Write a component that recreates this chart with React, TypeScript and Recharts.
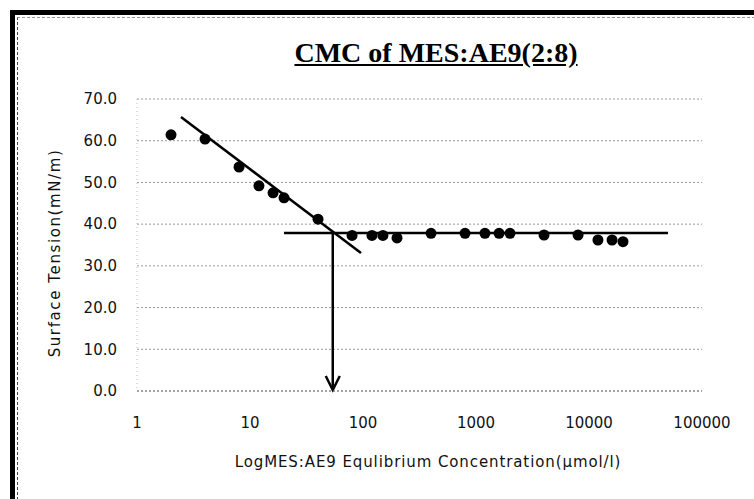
import {
  ScatterChart, Scatter, XAxis, YAxis, CartesianGrid, ReferenceLine,
} from 'recharts';

// concentration (µmol/l) vs surface tension (mN/m)
const concentration = [2, 4, 8, 12, 16, 20, 40, 80, 120, 150, 200, 400, 800, 1200, 1600, 2000, 4000, 8000, 12000, 16000, 20000];
const tension = [61.4, 60.4, 53.7, 49.2, 47.5, 46.3, 41.2, 37.3, 37.3, 37.3, 36.7, 37.8, 37.8, 37.8, 37.8, 37.8, 37.4, 37.4, 36.2, 36.2, 35.8];

const xTicks = [1, 10, 100, 1000, 10000, 100000];
const yTicks = [0, 10, 20, 30, 40, 50, 60, 70];

// hand-drawn fit lines and CMC arrow
const slopeLine = [{ x: 2.45, y: 65.7 }, { x: 96, y: 33.1 }];
const plateauLine = [{ x: 20, y: 37.9 }, { x: 50000, y: 37.9 }];
const cmcArrow = [{ x: 54, y: 37.9 }, { x: 54, y: 0 }];

const points = concentration.map((c, i) => ({ x: c, y: tension[i] }));

const tickFont = { fontFamily: 'DejaVu Sans', fontSize: 15, fill: '#111' };

const Dot = (props: any) => <circle cx={props.cx} cy={props.cy} r={5.5} fill="#000" />;

const Arrow = (props: any) => {
  const { x1, y1, x2, y2 } = props;
  return (
    <g>
      <line x1={x1} y1={y1} x2={x2} y2={y2 - 4} stroke="#000" strokeWidth={2.5} />
      <polyline
        points={`${x2 - 7},${y2 - 15} ${x2},${y2 - 1} ${x2 + 7},${y2 - 15}`}
        fill="none"
        stroke="#000"
        strokeWidth={2.5}
      />
    </g>
  );
};

export default function App() {
  return (
    <div style={{ position: 'absolute', left: 0, top: 0, width: 754, height: 499, background: '#fff', overflow: 'hidden' }}>
      <div style={{ position: 'absolute', left: 10, top: 10, width: 744, height: 489, borderLeft: '5px solid #000', borderTop: '5px solid #000' }} />
      <div style={{ position: 'absolute', left: 17, top: 17, width: 737, height: 482, borderLeft: '1px dashed #444', borderTop: '1px dashed #999' }} />
      <div
        style={{
          position: 'absolute', left: 436, top: 39, transform: 'translateX(-50%)', whiteSpace: 'nowrap',
          fontFamily: '"Liberation Serif", serif', fontWeight: 'bold', fontSize: 28, lineHeight: 1,
          textDecoration: 'underline', color: '#000',
        }}
      >
        CMC of MES:AE9(2:8)
      </div>
      <div style={{ position: 'absolute', left: 0, top: 0 }}>
        <ScatterChart width={754} height={499} margin={{ top: 99, right: 52, bottom: 0, left: 0 }}>
          <CartesianGrid horizontal vertical={false} stroke="#999" strokeDasharray="2 2" />
          <XAxis
            dataKey="x"
            type="number"
            scale="log"
            domain={[1, 100000]}
            ticks={xTicks}
            height={108}
            tickLine={false}
            tickMargin={20}
            axisLine={{ stroke: '#777', strokeDasharray: '2 2' }}
            tick={tickFont}
            allowDataOverflow
            label={{
              content: () => (
                <text x={428} y={467} textAnchor="middle" fontFamily="DejaVu Sans" fontSize={15} letterSpacing={0.9} fill="#111">
                  LogMES:AE9 Equlibrium Concentration(µmol/l)
                </text>
              ),
            }}
          />
          <YAxis
            dataKey="y"
            type="number"
            domain={[0, 70]}
            ticks={yTicks}
            width={137}
            tickLine={false}
            tickMargin={14}
            axisLine={{ stroke: '#bbb', strokeDasharray: '1 3' }}
            tick={tickFont}
            tickFormatter={(v: number) => v.toFixed(1)}
            label={{
              content: () => (
                <text
                  x={60}
                  y={253}
                  transform="rotate(-90 60 253)"
                  textAnchor="middle"
                  fontFamily="DejaVu Sans"
                  fontSize={15}
                  letterSpacing={1.6}
                  fill="#111"
                >
                  Surface Tension(mN/m)
                </text>
              ),
            }}
          />
          <ReferenceLine segment={slopeLine} stroke="#000" strokeWidth={2.5} ifOverflow="visible" />
          <ReferenceLine segment={plateauLine} stroke="#000" strokeWidth={2.5} ifOverflow="visible" />
          <ReferenceLine segment={cmcArrow} ifOverflow="visible" shape={Arrow} />
          <Scatter data={points} fill="#000" isAnimationActive={false} shape={Dot} />
        </ScatterChart>
      </div>
    </div>
  );
}
